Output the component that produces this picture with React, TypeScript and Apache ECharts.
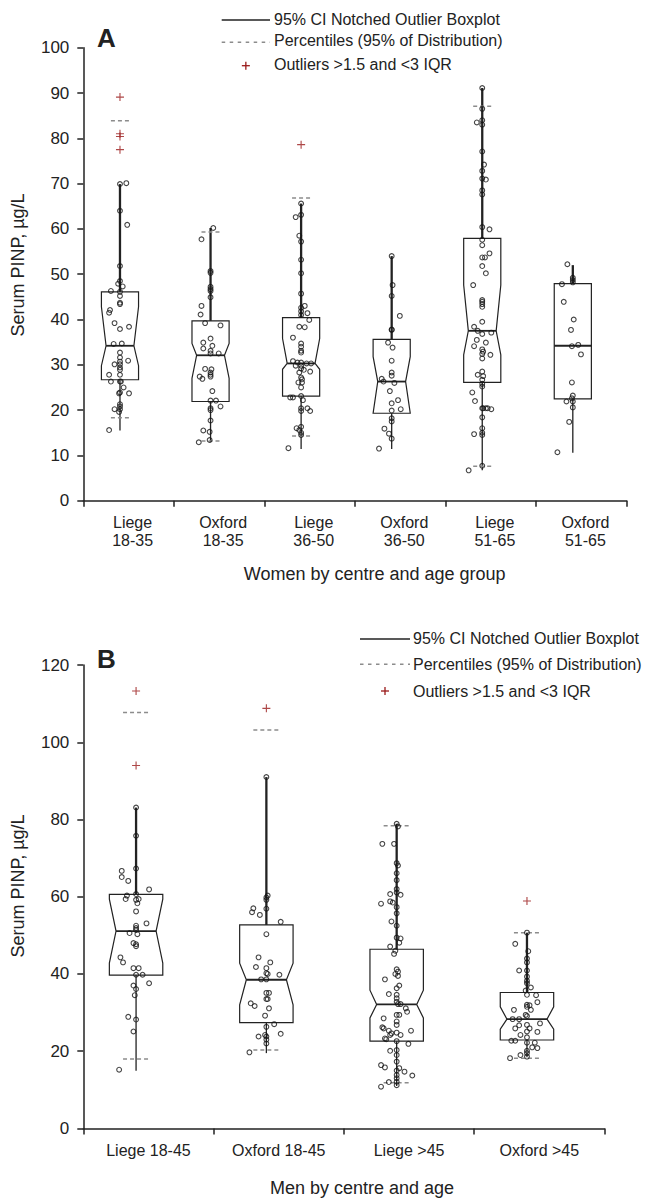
import React, { useEffect, useRef } from "react";
import * as echarts from "echarts";

// ---------------- DATA ----------------
const womenCategories = ["Liege\n18-35", "Oxford\n18-35", "Liege\n36-50", "Oxford\n36-50", "Liege\n51-65", "Oxford\n51-65"];
const womenYMax = 100;
const womenYStep = 10;
// [Q1, notch low, median, notch high, Q3, whisker low, whisker high]  (null notch = plain box)
const womenBoxes: (number | null)[][] = [
  [26.7, 29.8, 34.2, 42.8, 46.1, 15.5, 69.9],
  [21.9, 27.0, 32.1, 34.7, 39.7, 12.9, 60.2],
  [23.1, 29.0, 30.3, 35.8, 40.4, 11.4, 65.6],
  [19.3, 19.3, 26.3, 31.8, 35.6, 11.4, 54.0],
  [26.1, 32.2, 37.5, 47.6, 57.9, 6.7, 91.1],
  [22.5, null, 34.2, null, 47.9, 10.6, 52.0],
];
// 2.5th / 97.5th percentiles
const womenPercentiles: (number[] | null)[] = [[18.3, 83.9], [13.2, 59.3], [14.3, 66.8], null, [7.6, 87.1], null];
const womenOutliers: number[][] = [[89.1, 81.0, 80.4, 77.5], [], [78.6], [], [], []];
// individual values: [value, horizontal jitter in category units]
const womenPoints: number[][][] = [
  [[69.9,0],[70.1,0.07],[64.0,0],[60.9,0.08],[51.8,0],[47.9,-0.02],[48.5,0],[47.3,0.03],[46.3,-0.1],[46.1,0],[45.2,0],[43.7,0],[43.4,0],[42.1,-0.11],[41.5,-0.12],[39.2,-0.06],[37.9,0],[38.4,0.1],[34.6,-0.07],[34.7,0.02],[32.7,0],[31.6,0],[30.7,0],[30.1,-0.06],[30.1,0],[30.9,0.09],[29.4,0],[28.9,0],[27.8,-0.12],[27.8,0],[26.3,-0.1],[26.3,0],[26.3,0.01],[25.0,0.04],[23.9,0],[23.7,-0.01],[23.7,0.1],[21.3,0],[20.8,0],[20.2,-0.06],[20.2,0],[19.6,-0.01],[15.6,-0.12]],
  [[60.2,0.03],[57.7,-0.1],[50.7,0],[50.3,0],[47.2,0],[46.7,0],[46.3,0],[44.9,0],[43.0,-0.1],[41.1,-0.11],[39.2,-0.06],[38.7,0.11],[34.9,-0.08],[35.8,0],[34.2,0.02],[33.6,-0.08],[33.1,0],[32.5,0],[32.5,0.09],[29.1,-0.06],[29.0,0.01],[28.3,0],[27.8,0],[27.4,0],[27.4,-0.12],[26.9,-0.09],[24.2,0.02],[22.1,0],[22.1,0.06],[20.4,0],[20.0,0],[20.8,0.11],[17.7,0],[15.5,-0.08],[15.2,-0.01],[13.4,-0.01],[12.9,-0.13]],
  [[65.6,0],[63.1,0],[62.6,-0.06],[58.5,-0.02],[57.2,0],[53.2,0],[50.2,0],[45.7,0],[43.0,0.04],[42.6,0],[41.8,0],[41.0,0],[41.4,0.07],[39.9,0.09],[38.4,-0.02],[38.3,0.04],[36.0,-0.09],[34.7,0],[34.0,0],[33.1,0],[32.7,0],[30.8,-0.09],[30.5,-0.04],[30.5,0],[30.3,0.06],[30.3,0.11],[29.8,0],[29.8,-0.06],[29.2,0],[28.9,0.03],[28.3,-0.02],[28.5,0.1],[27.2,0],[26.8,0.01],[26.1,-0.03],[26.1,0.01],[25.0,0],[22.8,-0.12],[22.8,-0.09],[23.1,0],[22.2,0.02],[20.4,0],[19.8,0],[20.4,0.07],[19.8,0.1],[16.3,0],[16.0,-0.05],[15.6,-0.02],[15.0,0],[14.5,0],[11.6,-0.14]],
  [[54.0,0],[47.6,0.01],[45.2,0],[37.8,0],[37.7,0],[40.8,0.09],[34.9,-0.04],[33.8,0.01],[30.9,0],[28.3,0],[27.6,0],[26.9,-0.11],[26.3,-0.09],[26.0,0.03],[24.2,-0.02],[21.5,0],[22.2,0.07],[20.2,0.1],[19.9,0],[18.2,0],[17.5,0],[15.9,-0.08],[14.8,-0.03],[13.7,0],[11.5,-0.14]],
  [[91.1,0],[86.5,0],[84.0,0],[83.5,-0.06],[83.0,0],[77.1,0],[74.2,0.02],[72.8,0],[70.9,0.04],[71.1,0],[68.5,0],[67.6,0],[60.4,0],[59.9,0.08],[57.6,0],[56.4,0],[53.7,0],[53.7,0.03],[54.6,0.08],[51.8,0],[50.2,0.04],[47.6,-0.1],[44.3,0],[43.9,0],[43.4,0],[42.8,0],[39.5,0],[38.4,-0.09],[37.5,-0.05],[37.1,0.1],[36.8,0],[35.5,-0.06],[34.9,0.04],[34.1,-0.09],[33.4,0],[32.9,0.01],[32.4,0],[32.2,0.09],[31.4,0],[28.5,0],[27.8,-0.05],[27.5,0.01],[26.7,0],[25.8,0],[25.2,0],[23.9,-0.11],[22.0,-0.08],[20.4,0],[20.4,0.01],[20.4,0.04],[20.4,0.06],[20.2,0.1],[18.4,0],[16.0,0],[15.0,0],[14.7,-0.09],[14.5,0],[7.7,0],[6.7,-0.15]],
  [[52.2,-0.06],[49.2,0],[48.7,0],[48.2,0],[47.8,-0.12],[43.9,-0.1],[40.0,0.01],[37.7,-0.02],[34.1,-0.01],[34.4,0.06],[32.3,0.09],[26.1,-0.01],[23.2,0],[22.6,-0.01],[21.9,-0.07],[21.9,0],[20.6,0],[17.4,-0.04],[10.7,-0.17]],
];

const menCategories = ["Liege 18-45", "Oxford 18-45", "Liege >45", "Oxford >45"];
const menYMax = 120;
const menYStep = 20;
const menBoxes: (number | null)[][] = [
  [39.7, 42.8, 51.1, 59.4, 60.6, 14.9, 83.1],
  [27.4, 32.0, 38.5, 42.8, 52.7, 19.5, 91.0],
  [22.6, 28.6, 32.1, 35.8, 46.4, 11.0, 78.9],
  [22.9, 25.7, 28.3, 31.5, 35.2, 18.4, 50.7],
];
const menPercentiles: (number[] | null)[] = [[18.0, 107.7], [20.3, 103.2], [11.8, 78.4], [18.2, 50.7]];
const menOutliers: number[][] = [[113.3, 94.0], [108.8], [], [58.9]];
const menPoints: number[][][] = [
  [[83.1,0],[75.8,0],[67.3,0],[66.7,-0.11],[65.1,-0.11],[64.1,-0.06],[61.9,0.1],[60.7,0],[60.3,-0.07],[59.4,-0.08],[59.2,0],[59.4,0.02],[58.3,0.01],[56.2,0],[53.1,0.08],[52.5,0],[51.9,0],[51.4,0],[50.6,-0.05],[50.3,0.01],[48.0,-0.02],[47.7,0],[47.2,0],[44.3,-0.12],[43.0,-0.1],[41.5,-0.02],[41.5,0.02],[39.8,0],[39.8,0.05],[37.6,0.1],[37.0,-0.02],[36.1,0],[34.5,-0.01],[28.9,-0.06],[28.2,0],[25.1,-0.02],[15.2,-0.13]],
  [[91.0,0],[60.3,0.01],[59.8,0],[59.2,0],[57.0,-0.1],[56.0,-0.11],[55.3,-0.05],[56.9,0],[53.5,0.11],[50.3,0],[44.3,-0.06],[41.8,-0.08],[43.0,0.03],[41.5,0],[40.2,0],[40.0,0.01],[39.8,0.1],[38.6,-0.04],[38.6,0],[35.1,0],[35.1,0.02],[33.5,0],[33.5,0.01],[32.4,-0.12],[31.7,-0.09],[31.1,0.02],[29.2,-0.01],[26.3,0],[27.0,0.06],[23.8,-0.06],[24.2,-0.01],[23.8,0],[24.5,0.11],[22.0,0],[23.0,0],[19.7,-0.13]],
  [[78.9,0],[78.2,0.01],[73.7,-0.11],[73.7,-0.02],[68.7,0],[68.1,0.01],[66.1,0],[64.3,0],[62.0,0],[61.1,0],[60.7,-0.05],[60.5,0.03],[58.2,-0.12],[58.8,-0.05],[58.5,-0.03],[57.3,0],[55.7,0],[53.6,-0.04],[52.5,0],[49.4,0],[49.2,0.03],[48.1,0.02],[47.1,-0.05],[46.0,-0.01],[45.2,-0.02],[41.2,0],[40.6,0.01],[40.0,-0.01],[39.5,0.01],[38.6,-0.09],[37.0,0.02],[36.3,0],[34.8,-0.06],[34.6,0],[33.7,0],[32.8,0],[32.2,0.01],[32.2,0.03],[31.1,0.07],[30.2,0.08],[29.4,0.02],[29.4,0],[28.5,-0.1],[27.7,0],[26.2,-0.11],[25.9,-0.1],[26.8,0],[25.3,-0.06],[24.8,0],[24.2,0.03],[25.3,0.11],[23.3,-0.09],[24.2,-0.05],[23.1,-0.08],[24.6,-0.04],[22.6,0],[21.9,0.09],[20.1,-0.05],[20.3,0],[19.0,0],[17.3,0],[16.4,-0.12],[15.8,-0.09],[15.6,0.02],[14.7,0.06],[13.7,0.12],[15.0,0],[13.8,0],[13.0,0],[12.1,0],[12.0,-0.06],[10.8,-0.12],[11.2,0]],
  [[50.7,0],[47.8,-0.09],[45.9,0.01],[44.0,0],[43.0,0],[40.9,-0.06],[40.9,0],[39.3,0],[38.2,0],[37.6,0],[36.5,0.03],[35.7,-0.01],[34.6,0],[34.5,0.07],[32.7,0.08],[32.0,0],[31.5,0],[31.9,0.02],[30.7,0.03],[30.7,-0.1],[29.4,-0.01],[29.1,0],[28.3,-0.11],[28.3,-0.06],[27.2,0.1],[26.8,0],[26.7,-0.06],[25.9,-0.09],[25.9,0.02],[25.1,0],[25.0,0.08],[24.2,-0.05],[23.6,0],[22.7,-0.12],[22.7,-0.09],[22.2,0],[22.2,0.06],[21.0,0.04],[20.8,0.08],[20.1,0],[19.5,0],[19.0,-0.05],[18.6,0],[18.2,-0.13]],
];

const legendTexts = ["95% CI Notched Outlier Boxplot", "Percentiles (95% of Distribution)", "Outliers >1.5 and <3 IQR"];
const yTitle = "Serum PINP, µg/L";
const womenXTitle = "Women by centre and age group";
const menXTitle = "Men by centre and age";

// ---------------- STYLE ----------------
const FONT = '"Liberation Sans", Arial, Helvetica, sans-serif';
const INK = "#222";
const GREY = "#8c8c8c";
const RED = "#9a1a1a";
const BOX_POS = 0.405;
const BOX_HALF = 0.205;
const DASH_HALF = 0.1;
const NOTCH_INSET = 0.25;
const PLUS_PATH = "path://M0,4.3H10V5.7H0Z M4.3,0H5.7V10H4.3Z";

function boxRenderer(boxes: (number | null)[][], pcts: (number[] | null)[]) {
  return (params: any, api: any) => {
    const i = params.dataIndex;
    const [q1, nl, med, nh, q3, wl, wh] = boxes[i] as any[];
    const pos = api.value(0);
    const Y = (v: number) => api.coord([pos, v])[1];
    const cx = api.coord([pos, med])[0];
    const hw = api.size([BOX_HALF, 0])[0];
    const dh = api.size([DASH_HALF, 0])[0];
    const notched = nl != null && nh != null;
    const inset = notched ? hw * NOTCH_INSET : 0;
    const L = cx - hw;
    const R = cx + hw;
    const points = notched
      ? [[L, Y(q3)], [R, Y(q3)], [R, Y(nh)], [R - inset, Y(med)], [R, Y(nl)], [R, Y(q1)], [L, Y(q1)], [L, Y(nl)], [L + inset, Y(med)], [L, Y(nh)]]
      : [[L, Y(q3)], [R, Y(q3)], [R, Y(q1)], [L, Y(q1)]];
    const children: any[] = [
      { type: "line", shape: { x1: cx, y1: Y(q3), x2: cx, y2: Y(wh) }, style: { stroke: INK, lineWidth: 2.3 } },
      { type: "line", shape: { x1: cx, y1: Y(q1), x2: cx, y2: Y(wl) }, style: { stroke: INK, lineWidth: 1.3 } },
      { type: "polygon", shape: { points }, style: { fill: "none", stroke: INK, lineWidth: 1.2 } },
      { type: "line", shape: { x1: L + inset, y1: Y(med), x2: R - inset, y2: Y(med) }, style: { stroke: INK, lineWidth: 1.8 } },
    ];
    const p = pcts[i];
    if (p) {
      for (const v of p) {
        children.push({ type: "line", shape: { x1: cx - dh, y1: Y(v), x2: cx + dh, y2: Y(v) }, style: { stroke: GREY, lineWidth: 1.5, lineDash: [4, 3] } });
      }
    }
    return { type: "group", children };
  };
}

function panelSeries(xIdx: number, yIdx: number, boxes: any, pcts: any, outliers: number[][], points: number[][][]) {
  return [
    {
      type: "custom",
      xAxisIndex: xIdx,
      yAxisIndex: yIdx,
      renderItem: boxRenderer(boxes, pcts),
      data: boxes.map((b: any, i: number) => [i + BOX_POS, b[2]]),
      clip: false,
      silent: true,
      z: 2,
    },
    {
      type: "scatter",
      xAxisIndex: xIdx,
      yAxisIndex: yIdx,
      data: points.flatMap((g, i) => g.map(([v, j]) => [i + BOX_POS + j, v])),
      symbol: "circle",
      symbolSize: 4.8,
      itemStyle: { color: "rgba(255,255,255,0)", borderColor: "#151515", borderWidth: 1.1 },
      silent: true,
      z: 3,
    },
    {
      type: "scatter",
      xAxisIndex: xIdx,
      yAxisIndex: yIdx,
      data: outliers.flatMap((g, i) => g.map((v) => [i + BOX_POS, v])),
      symbol: PLUS_PATH,
      symbolSize: 8,
      itemStyle: { color: RED },
      silent: true,
      z: 4,
    },
  ];
}

function catAxis(grid: number, data: string[], padLeft: number) {
  return {
    type: "category",
    gridIndex: grid,
    data,
    boundaryGap: true,
    axisLine: { show: true, onZero: false, lineStyle: { color: INK, width: 1.5 } },
    axisTick: { show: true, length: 6, interval: 0, lineStyle: { color: INK, width: 1.5 } },
    axisLabel: { interval: 0, color: INK, fontSize: 16, lineHeight: 18, fontFamily: FONT, margin: 13, padding: [0, 0, 0, padLeft] },
    splitLine: { show: false },
  };
}

function valAxis(grid: number, max: number, step: number) {
  return {
    type: "value",
    gridIndex: grid,
    min: 0,
    max,
    interval: step,
    axisLine: { show: true, onZero: false, lineStyle: { color: INK, width: 1.5 } },
    axisTick: { show: true, length: 6, lineStyle: { color: INK, width: 1.5 } },
    axisLabel: { color: INK, fontSize: 17, fontFamily: FONT, margin: 14 },
    splitLine: { show: false },
  };
}

function legendGraphics(x0: number, x1: number, tx: number, ys: number[], tys: number[]) {
  const txt = (t: string, y: number) => ({
    type: "text",
    x: tx,
    y,
    style: { text: t, fill: INK, font: `16px ${FONT}`, align: "left", verticalAlign: "middle" },
  });
  const pc = (x0 + x1) / 2;
  return [
    { type: "line", shape: { x1: x0, y1: ys[0], x2: x1, y2: ys[0] }, style: { stroke: INK, lineWidth: 1.3 } },
    txt(legendTexts[0], tys[0]),
    { type: "line", shape: { x1: x0, y1: ys[1], x2: x1, y2: ys[1] }, style: { stroke: GREY, lineWidth: 1.5, lineDash: [3.5, 4.5] } },
    txt(legendTexts[1], tys[1]),
    { type: "line", shape: { x1: pc - 4, y1: ys[2], x2: pc + 4, y2: ys[2] }, style: { stroke: RED, lineWidth: 1.3 } },
    { type: "line", shape: { x1: pc, y1: ys[2] - 4, x2: pc, y2: ys[2] + 4 }, style: { stroke: RED, lineWidth: 1.3 } },
    txt(legendTexts[2], tys[2]),
  ];
}

export default function App() {
  const ref = useRef<HTMLDivElement>(null);
  useEffect(() => {
    if (!ref.current) return;
    const chart = echarts.init(ref.current, null, { renderer: "svg" });
    const option: any = {
      animation: false,
      backgroundColor: "#fff",
      textStyle: { fontFamily: FONT },
      grid: [
        { left: 83.3, top: 47.7, width: 543.4, height: 453 },
        { left: 83.3, top: 665.1, width: 521.2, height: 463.3 },
      ],
      xAxis: [
        catAxis(0, womenCategories, 8),
        { type: "value", gridIndex: 0, min: 0, max: womenCategories.length, show: false },
        catAxis(1, menCategories, 0),
        { type: "value", gridIndex: 1, min: 0, max: menCategories.length, show: false },
      ],
      yAxis: [valAxis(0, womenYMax, womenYStep), valAxis(1, menYMax, menYStep)],
      series: [
        ...panelSeries(1, 0, womenBoxes, womenPercentiles, womenOutliers, womenPoints),
        ...panelSeries(3, 1, menBoxes, menPercentiles, menOutliers, menPoints),
      ],
      graphic: [
        ...legendGraphics(221.7, 270, 274, [20, 42.3, 65.7], [19.2, 40.8, 64.2]),
        ...legendGraphics(360, 410, 413, [639, 664.3, 691], [638.3, 664, 691]),
        { type: "text", x: 97, y: 38.3, style: { text: "A", fill: INK, font: `bold 26px ${FONT}`, align: "left", verticalAlign: "middle" } },
        { type: "text", x: 97, y: 659, style: { text: "B", fill: INK, font: `bold 26px ${FONT}`, align: "left", verticalAlign: "middle" } },
        { type: "text", x: 374.7, y: 573.7, style: { text: womenXTitle, fill: INK, font: `18px ${FONT}`, align: "center", verticalAlign: "middle" } },
        { type: "text", x: 362, y: 1188, style: { text: menXTitle, fill: INK, font: `18px ${FONT}`, align: "center", verticalAlign: "middle" } },
        { type: "text", x: 18, y: 265, rotation: Math.PI / 2, style: { text: yTitle, fill: INK, font: `18px ${FONT}`, align: "center", verticalAlign: "middle" } },
        { type: "text", x: 18, y: 886, rotation: Math.PI / 2, style: { text: yTitle, fill: INK, font: `18px ${FONT}`, align: "center", verticalAlign: "middle" } },
      ],
    };
    chart.setOption(option);
    return () => chart.dispose();
  }, []);
  return <div ref={ref} style={{ position: "absolute", left: 0, top: 0, width: 655, height: 1198, background: "#fff" }} />;
}
